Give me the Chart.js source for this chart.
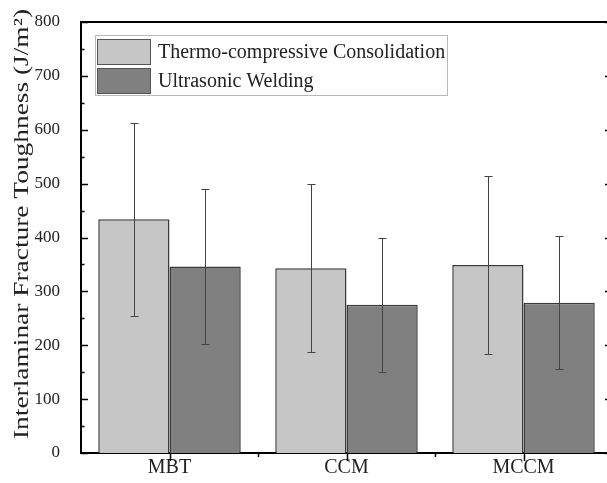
<!DOCTYPE html>
<html>
<head>
<meta charset="utf-8">
<script src="https://cdn.jsdelivr.net/npm/chart.js@4.4.0/dist/chart.umd.min.js"></script>
<style>
  html, body { margin: 0; padding: 0; background: #fff; overflow: hidden; width: 607px; height: 483px; }
  #wrap { position: relative; width: 620px; height: 483px; }
</style>
</head>
<body>
<div id="wrap"><canvas id="c" width="620" height="483"></canvas></div>
<script>
// Fracture toughness per manufacturing route (J/m^2), mean and standard deviation
const categories = ['MBT', 'CCM', 'MCCM'];
const seriesNames = ['Thermo-compressive Consolidation', 'Ultrasonic Welding'];
const thermoValues = [434, 343, 349];
const thermoErrors = [179, 156, 165];
const weldValues = [346, 275, 279];
const weldErrors = [144, 125, 124];
const yTickValues = [0, 100, 200, 300, 400, 500, 600, 700, 800];
const yTitle = 'Interlaminar Fracture Toughness (J/m\u00B2)';

const SERIF = '"Liberation Serif", "Times New Roman", serif';
const errors = [thermoErrors, weldErrors];

// Inward ticks on left/right, outward major+minor ticks on the bottom, plus top/right frame
const framePlugin = {
  id: 'frame',
  afterDraw(chart) {
    const { ctx, chartArea: a, scales } = chart;
    const ys = scales.y, xs = scales.x;
    ctx.save();
    ctx.strokeStyle = '#000';
    ctx.lineWidth = 2;
    ctx.beginPath();
    ctx.moveTo(a.left, a.top); ctx.lineTo(a.right, a.top);
    ctx.moveTo(a.right, a.top); ctx.lineTo(a.right, a.bottom);
    ctx.stroke();
    ctx.lineWidth = 1.5;
    const maxV = yTickValues[yTickValues.length - 1];
    for (let v = 0; v <= maxV; v += 50) {
      const y = Math.round(ys.getPixelForValue(v)) + 0.5;
      const len = v % 100 === 0 ? 7 : 3.5;
      ctx.beginPath();
      ctx.moveTo(a.left, y); ctx.lineTo(a.left + len, y);
      ctx.moveTo(a.right, y); ctx.lineTo(a.right - len, y);
      ctx.stroke();
    }
    for (let i = 0; i < categories.length; i++) {
      const x = Math.round(xs.getPixelForValue(i)) + 0.5;
      ctx.beginPath();
      ctx.moveTo(x, a.bottom); ctx.lineTo(x, a.bottom + 8);
      ctx.stroke();
      if (i < categories.length - 1) {
        const xm = Math.round((xs.getPixelForValue(i) + xs.getPixelForValue(i + 1)) / 2) + 0.5;
        ctx.beginPath();
        ctx.moveTo(xm, a.bottom); ctx.lineTo(xm, a.bottom + 4);
        ctx.stroke();
      }
    }
    // rotated y-axis title, stretched along its run to span the axis
    ctx.translate(22, 224);
    ctx.rotate(-Math.PI / 2);
    ctx.fillStyle = '#222';
    ctx.font = '21px ' + SERIF;
    ctx.textAlign = 'center';
    ctx.textBaseline = 'middle';
    const w = ctx.measureText(yTitle).width;
    ctx.scale(430 / w, 1);
    ctx.fillText(yTitle, 0, 0);
    ctx.restore();
  }
};

// Symmetric standard-deviation whiskers on every bar
const errorBarPlugin = {
  id: 'errorBars',
  afterDatasetsDraw(chart) {
    const { ctx, scales } = chart;
    const ys = scales.y;
    ctx.save();
    ctx.strokeStyle = '#444';
    ctx.lineWidth = 1;
    chart.data.datasets.forEach((ds, d) => {
      const meta = chart.getDatasetMeta(d);
      meta.data.forEach((bar, i) => {
        const v = ds.data[i], e = errors[d][i];
        const x = Math.round(bar.x) + 0.5;
        const yt = Math.round(ys.getPixelForValue(v + e)) + 0.5;
        const yb = Math.round(ys.getPixelForValue(v - e)) + 0.5;
        ctx.beginPath();
        ctx.moveTo(x, yt); ctx.lineTo(x, yb);
        ctx.moveTo(x - 4, yt); ctx.lineTo(x + 4, yt);
        ctx.moveTo(x - 4, yb); ctx.lineTo(x + 4, yb);
        ctx.stroke();
      });
    });
    ctx.restore();
  }
};

// Boxed legend inside the plot, top-left
const boxLegendPlugin = {
  id: 'boxLegend',
  afterDraw(chart) {
    const { ctx, chartArea: a } = chart;
    const x0 = a.left + 14, y0 = a.top + 13;
    const sw = 54, sh = 26, step = 29;
    ctx.save();
    ctx.strokeStyle = '#b8b8b8';
    ctx.lineWidth = 1;
    ctx.strokeRect(x0 + 0.5, y0 + 0.5, 352, 60);
    ctx.font = '20px ' + SERIF;
    ctx.textBaseline = 'middle';
    chart.data.datasets.forEach((ds, d) => {
      const sy = y0 + 4 + d * step;
      ctx.fillStyle = ds.backgroundColor;
      ctx.fillRect(x0 + 2, sy, sw, sh);
      ctx.strokeStyle = '#555';
      ctx.strokeRect(x0 + 2.5, sy + 0.5, sw - 1, sh - 1);
      ctx.fillStyle = '#222';
      ctx.fillText(ds.label, x0 + 63, sy + sh / 2 + 1);
    });
    ctx.restore();
  }
};

new Chart(document.getElementById('c'), {
  type: 'bar',
  data: {
    labels: categories,
    datasets: [
      { label: seriesNames[0], data: thermoValues, backgroundColor: '#c6c6c6', borderColor: '#3a3a3a', borderWidth: 1.5 },
      { label: seriesNames[1], data: weldValues, backgroundColor: '#808080', borderColor: '#3a3a3a', borderWidth: 1.5 }
    ]
  },
  options: {
    responsive: false,
    animation: false,
    devicePixelRatio: 1,
    layout: { padding: { top: 22, right: 8, left: 0, bottom: 0 } },
    plugins: { legend: { display: false }, tooltip: { enabled: false } },
    datasets: { bar: { categoryPercentage: 0.805, barPercentage: 1.0 } },
    scales: {
      x: {
        offset: true,
        grid: { display: false, drawTicks: false },
        border: { display: true, color: '#000', width: 2 },
        ticks: { color: '#222', font: { family: SERIF, size: 20 }, padding: 3 },
        afterFit(s) { s.height = 30; }
      },
      y: {
        min: 0, max: 800,
        afterBuildTicks(s) { s.ticks = yTickValues.map(v => ({ value: v })); },
        grid: { display: false, drawTicks: false },
        border: { display: true, color: '#000', width: 2 },
        ticks: { color: '#222', font: { family: SERIF, size: 17 }, padding: 21 },
        afterFit(s) { s.width = 81; s.paddingTop = 0; s.paddingBottom = 0; }
      }
    }
  },
  plugins: [errorBarPlugin, framePlugin, boxLegendPlugin]
});
</script>
</body>
</html>
